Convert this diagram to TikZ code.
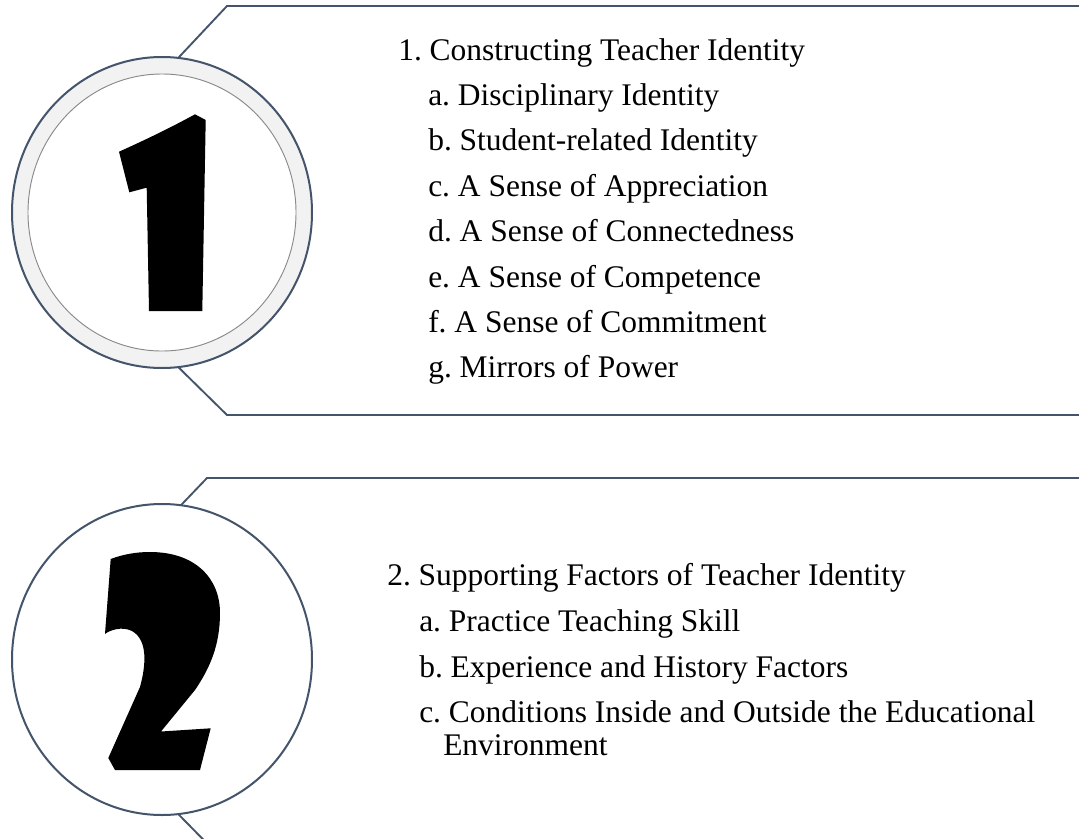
\documentclass[tikz,border=0pt]{standalone}
\usepackage{fontspec}
\setmainfont{Liberation Serif}
\usetikzlibrary{shapes.geometric}
\definecolor{slate}{HTML}{44546A}
\definecolor{ringgray}{HTML}{F2F2F2}
\definecolor{innergray}{HTML}{8A8A8A}
\begin{document}
\frenchspacing
\begin{tikzpicture}[x=0.75pt,y=-0.75pt,
  outline/.style={draw=slate,line width=1.5pt},
  frame/.style={draw=slate,line width=1.4pt},
  bigcirc/.style={ellipse,inner sep=0pt,outer sep=0pt,minimum width=225pt,minimum height=233.25pt},
  innercirc/.style={ellipse,inner sep=0pt,outer sep=0pt,minimum width=201pt,minimum height=207.75pt},
  item/.style={anchor=base west,inner sep=0pt,font=\fontsize{23.6pt}{28pt}\selectfont},
  digit/.style={fill=black}]
\useasboundingbox (0,0) rectangle (1079,839);
\clip (0,0) rectangle (1079,839);
\fill[white] (0,0) rectangle (1079,839);

% ---- block 1 ----
\node[bigcirc,outline,fill=ringgray] (c1) at (162,212.5) {};
\node[innercirc,draw=innergray,line width=0.7pt,fill=white] (c1in) at (162,212.5) {};
\coordinate (t1) at (227,6);
\coordinate (t1e) at (1079,6);
\coordinate (b1) at (227,415);
\coordinate (b1e) at (1079,415);
\draw[frame,line join=miter] (c1.84.5) -- (t1) -- (t1e);
\draw[frame,line join=miter] (c1.276.6) -- (b1) -- (b1e);
% digit 1
\fill[digit] (119,151.7) .. controls (145,140) and (170,128) .. (195,114.3)
  -- (205.7,120) -- (202.3,311) -- (149,311) -- (146.7,187.7) -- (129.3,192.3) -- cycle;

\node[item] (h1) at (398,60) {1. Constructing Teacher Identity};
\node[item] (h1a) at (428,105.4) {a. Disciplinary Identity};
\node[item] (h1b) at (428,150.8) {b. Student-related Identity};
\node[item] (h1c) at (428,196.2) {c. A Sense of Appreciation};
\node[item] (h1d) at (428,241.6) {d. A Sense of Connectedness};
\node[item] (h1e) at (428,287) {e. A Sense of Competence};
\node[item] (h1f) at (428,332.4) {f. A Sense of Commitment};
\node[item] (h1g) at (428,377.8) {g. Mirrors of Power};

% ---- block 2 ----
\node[bigcirc,outline,fill=white] (c2) at (162,659.5) {};
\coordinate (t2) at (207,478);
\coordinate (t2e) at (1079,478);
\coordinate (b2) at (240,877);
\draw[frame,line join=miter] (c2.83.4) -- (t2) -- (t2e);
\draw[frame] (c2.276) -- (b2);
% digit 2
\fill[digit] (110.7,559) .. controls (124,554) and (137,552) .. (150,552)
  .. controls (195,552) and (220,578) .. (220,613)
  .. controls (220,645) and (210,668) .. (195,690)
  -- (161,731.5) -- (210.7,728.3) -- (200,770) -- (115,770) -- (108.3,758)
  -- (140,687)
  .. controls (146,665) and (148,640) .. (132,631)
  .. controls (122,626) and (110,630) .. (105,634)
  -- cycle;

\node[item] (h2) at (387,585) {2. Supporting Factors of Teacher Identity};
\node[item] (h2a) at (419,631) {a. Practice Teaching Skill};
\node[item] (h2b) at (419,677) {b. Experience and History Factors};
\node[item] (h2c) at (419,722) {c. Conditions Inside and Outside the Educational};
\node[item] (h2c2) at (443,755) {Environment};
\end{tikzpicture}
\end{document}
